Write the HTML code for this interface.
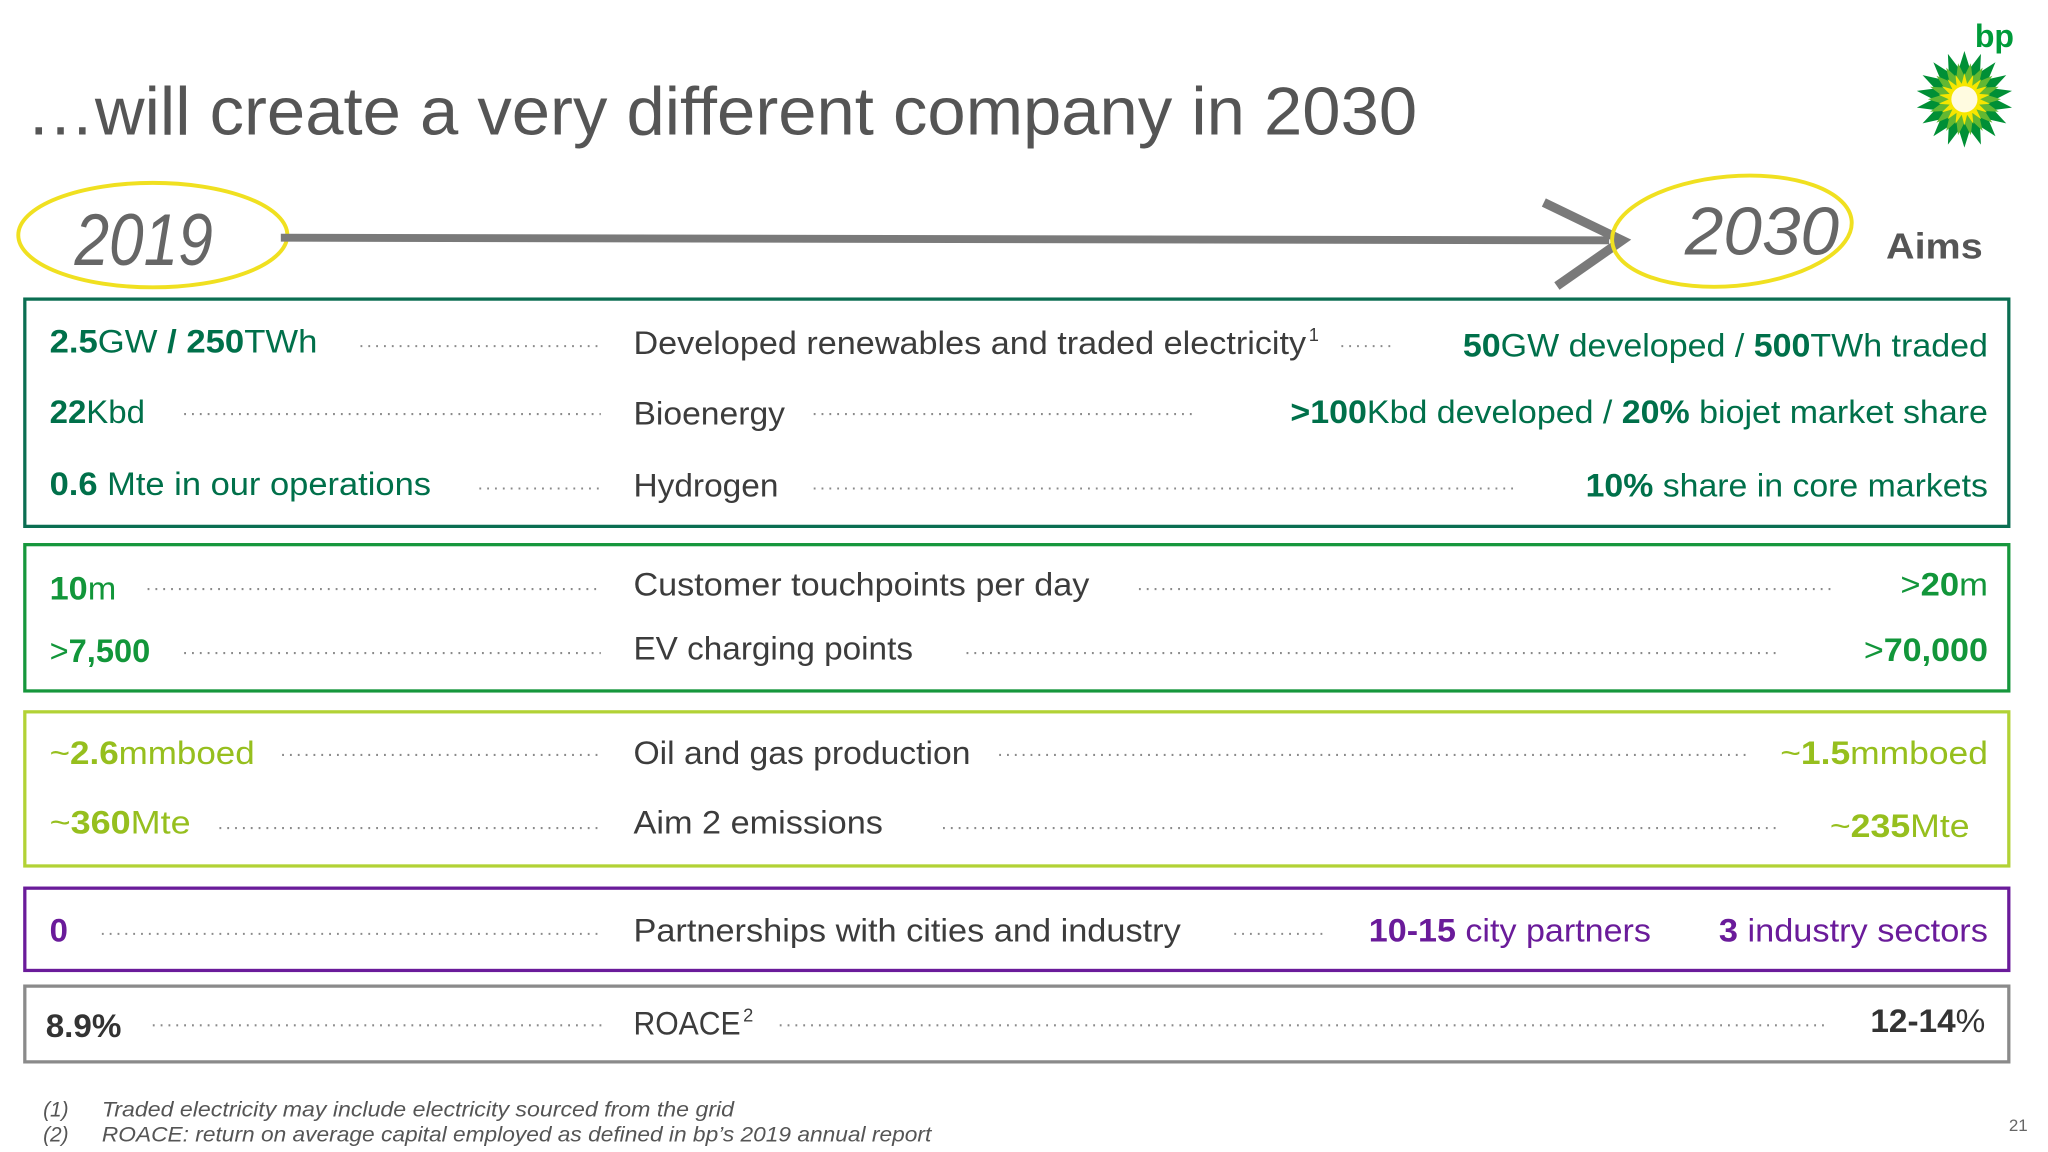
<!DOCTYPE html>
<html><head><meta charset="utf-8"><style>
html,body{margin:0;padding:0;background:#fff;}
svg{display:block;}
text{font-family:"Liberation Sans",sans-serif;}
.m{fill:#3c3c3c;font-size:25px;}
.sup{fill:#3c3c3c;font-size:14px;}
.d{stroke:#8a8a8a;stroke-width:1.6;stroke-dasharray:1.4 4.6;}
.b{font-weight:bold;}
</style></head><body>
<svg width="2048" height="1152" viewBox="0 0 1568 882" xmlns="http://www.w3.org/2000/svg">
<text x="20" y="103" font-size="52" fill="#555" textLength="1065" lengthAdjust="spacingAndGlyphs">…will create a very different company in 2030</text>

<g>
<text x="1512" y="36" font-size="25" font-weight="bold" fill="#009b3a" textLength="30" lengthAdjust="spacingAndGlyphs">bp</text>
<g id="sun" transform="translate(1504,76)"></g>
</g>

<g>
<ellipse cx="117" cy="180" rx="103" ry="40" fill="none" stroke="#f0e020" stroke-width="3"/>
<text x="57" y="203" font-size="56" font-style="italic" fill="#666" textLength="106" lengthAdjust="spacingAndGlyphs">2019</text>
<path d="M215 182 L1232 184" stroke="#7a7a7a" stroke-width="6" fill="none"/>
<path d="M1182 155 L1242 184 L1192 219" stroke="#7a7a7a" stroke-width="7" fill="none" stroke-linejoin="miter"/>
<ellipse cx="1326" cy="177" rx="92" ry="42" fill="none" stroke="#f0e020" stroke-width="3" transform="rotate(-5 1326 177)"/>
<text x="1290" y="195" font-size="52" font-style="italic" fill="#666" textLength="118" lengthAdjust="spacingAndGlyphs">2030</text>
<text x="1444" y="198" font-size="28" font-weight="bold" fill="#555" textLength="74" lengthAdjust="spacingAndGlyphs">Aims</text>
</g>

<!-- Box 1 -->
<g fill="#00704a" font-size="25">
<rect x="19" y="229" width="1519" height="174" fill="none" stroke="#0b6e52" stroke-width="2.5"/>
<text x="38" y="270" textLength="205" lengthAdjust="spacingAndGlyphs"><tspan class="b">2.5</tspan>GW <tspan class="b">/ 250</tspan>TWh</text>
<line class="d" x1="276" y1="265" x2="460" y2="265"/>
<text class="m" x="485" y="271" textLength="515" lengthAdjust="spacingAndGlyphs">Developed renewables and traded electricity</text>
<text class="sup" x="1002" y="261">1</text>
<line class="d" x1="1027" y1="265" x2="1066" y2="265"/>
<text x="1120" y="273" textLength="402" lengthAdjust="spacingAndGlyphs"><tspan class="b">50</tspan>GW developed / <tspan class="b">500</tspan>TWh traded</text>

<text x="38" y="324" textLength="73" lengthAdjust="spacingAndGlyphs"><tspan class="b">22</tspan>Kbd</text>
<line class="d" x1="141" y1="317" x2="460" y2="317"/>
<text class="m" x="485" y="325" textLength="116" lengthAdjust="spacingAndGlyphs">Bioenergy</text>
<line class="d" x1="623" y1="317" x2="915" y2="317"/>
<text x="988" y="324" textLength="534" lengthAdjust="spacingAndGlyphs"><tspan class="b">&gt;100</tspan>Kbd developed / <tspan class="b">20%</tspan> biojet market share</text>

<text x="38" y="379" textLength="292" lengthAdjust="spacingAndGlyphs"><tspan class="b">0.6</tspan> Mte in our operations</text>
<line class="d" x1="367" y1="374" x2="460" y2="374"/>
<text class="m" x="485" y="380" textLength="111" lengthAdjust="spacingAndGlyphs">Hydrogen</text>
<line class="d" x1="623" y1="374" x2="1162" y2="374"/>
<text x="1214" y="380" textLength="308" lengthAdjust="spacingAndGlyphs"><tspan class="b">10%</tspan> share in core markets</text>
</g>

<!-- Box 2 -->
<g fill="#12963a" font-size="25">
<rect x="19" y="417" width="1519" height="112" fill="none" stroke="#16973c" stroke-width="2.5"/>
<text x="38" y="459" textLength="51" lengthAdjust="spacingAndGlyphs"><tspan class="b">10</tspan>m</text>
<line class="d" x1="113" y1="451" x2="460" y2="451"/>
<text class="m" x="485" y="456" textLength="349" lengthAdjust="spacingAndGlyphs">Customer touchpoints per day</text>
<line class="d" x1="872" y1="451" x2="1402" y2="451"/>
<text x="1455" y="456" textLength="67" lengthAdjust="spacingAndGlyphs">&gt;<tspan class="b">20</tspan>m</text>
<text x="38" y="507" textLength="77" lengthAdjust="spacingAndGlyphs">&gt;<tspan class="b">7,500</tspan></text>
<line class="d" x1="141" y1="500" x2="460" y2="500"/>
<text class="m" x="485" y="505" textLength="214" lengthAdjust="spacingAndGlyphs">EV charging points</text>
<line class="d" x1="740" y1="500" x2="1362" y2="500"/>
<text x="1427" y="506" textLength="95" lengthAdjust="spacingAndGlyphs">&gt;<tspan class="b">70,000</tspan></text>
</g>

<!-- Box 3 -->
<g fill="#96bf1e" font-size="25">
<rect x="19" y="545" width="1519" height="118" fill="none" stroke="#b2d235" stroke-width="2.5"/>
<text x="38" y="585" textLength="157" lengthAdjust="spacingAndGlyphs">~<tspan class="b">2.6</tspan>mmboed</text>
<line class="d" x1="216" y1="578" x2="460" y2="578"/>
<text class="m" x="485" y="585" textLength="258" lengthAdjust="spacingAndGlyphs">Oil and gas production</text>
<line class="d" x1="765" y1="578" x2="1340" y2="578"/>
<text x="1363" y="585" textLength="159" lengthAdjust="spacingAndGlyphs">~<tspan class="b">1.5</tspan>mmboed</text>
<text x="38" y="638" textLength="108" lengthAdjust="spacingAndGlyphs">~<tspan class="b">360</tspan>Mte</text>
<line class="d" x1="168" y1="634" x2="460" y2="634"/>
<text class="m" x="485" y="638" textLength="191" lengthAdjust="spacingAndGlyphs">Aim 2 emissions</text>
<line class="d" x1="722" y1="634" x2="1362" y2="634"/>
<text x="1401" y="641" textLength="107" lengthAdjust="spacingAndGlyphs">~<tspan class="b">235</tspan>Mte</text>
</g>

<!-- Box 4 -->
<g fill="#6a1b9a" font-size="25">
<rect x="19" y="680" width="1519" height="63" fill="none" stroke="#6a1b9a" stroke-width="2.5"/>
<text x="38" y="721" class="b" textLength="14" lengthAdjust="spacingAndGlyphs">0</text>
<line class="d" x1="78" y1="715" x2="460" y2="715"/>
<text class="m" x="485" y="721" textLength="419" lengthAdjust="spacingAndGlyphs">Partnerships with cities and industry</text>
<line class="d" x1="945" y1="715" x2="1015" y2="715"/>
<text x="1048" y="721" textLength="216" lengthAdjust="spacingAndGlyphs"><tspan class="b">10-15</tspan> city partners</text>
<text x="1316" y="721" textLength="206" lengthAdjust="spacingAndGlyphs"><tspan class="b">3</tspan> industry sectors</text>
</g>

<!-- Box 5 -->
<g fill="#333" font-size="25">
<rect x="19" y="755" width="1519" height="58" fill="none" stroke="#8a8a8a" stroke-width="2.5"/>
<text x="35" y="794" class="b" textLength="58" lengthAdjust="spacingAndGlyphs">8.9%</text>
<line class="d" x1="117" y1="785" x2="465" y2="785"/>
<text class="m" x="485" y="792" textLength="82" lengthAdjust="spacingAndGlyphs">ROACE</text>
<text class="sup" x="569" y="782">2</text>
<line class="d" x1="597" y1="785" x2="1400" y2="785"/>
<text x="1432" y="790" textLength="88" lengthAdjust="spacingAndGlyphs"><tspan class="b">12-14</tspan>%</text>
</g>

<g fill="#555" font-size="16" font-style="italic">
<text x="33" y="855">(1)</text>
<text x="78" y="855" textLength="484" lengthAdjust="spacingAndGlyphs">Traded electricity may include electricity sourced from the grid</text>
<text x="33" y="874">(2)</text>
<text x="78" y="874" textLength="635" lengthAdjust="spacingAndGlyphs">ROACE: return on average capital employed as defined in bp’s 2019 annual report</text>
</g>
<text x="1538" y="866" font-size="13" fill="#666">21</text>
</svg>
<script>
var sun=document.getElementById('sun');
function star(n,ro,ri,col,off){
  var p=[];for(var i=0;i<n*2;i++){var r=i%2?ri:ro;var a=(i*Math.PI/n)+off-Math.PI/2;p.push((r*Math.cos(a)).toFixed(2)+','+(r*Math.sin(a)).toFixed(2));}
  var el=document.createElementNS('http://www.w3.org/2000/svg','polygon');
  el.setAttribute('points',p.join(' '));el.setAttribute('fill',col);
  
  
  sun.appendChild(el);
}
star(18,37,24,'#008f36',0);
star(18,28,18,'#63b832',Math.PI/18);
star(18,20,12,'#f7e600',0);
var c=document.createElementNS('http://www.w3.org/2000/svg','circle');
c.setAttribute('r','10');c.setAttribute('fill','#fffbe0');


sun.appendChild(c);
</script>
</body></html>
